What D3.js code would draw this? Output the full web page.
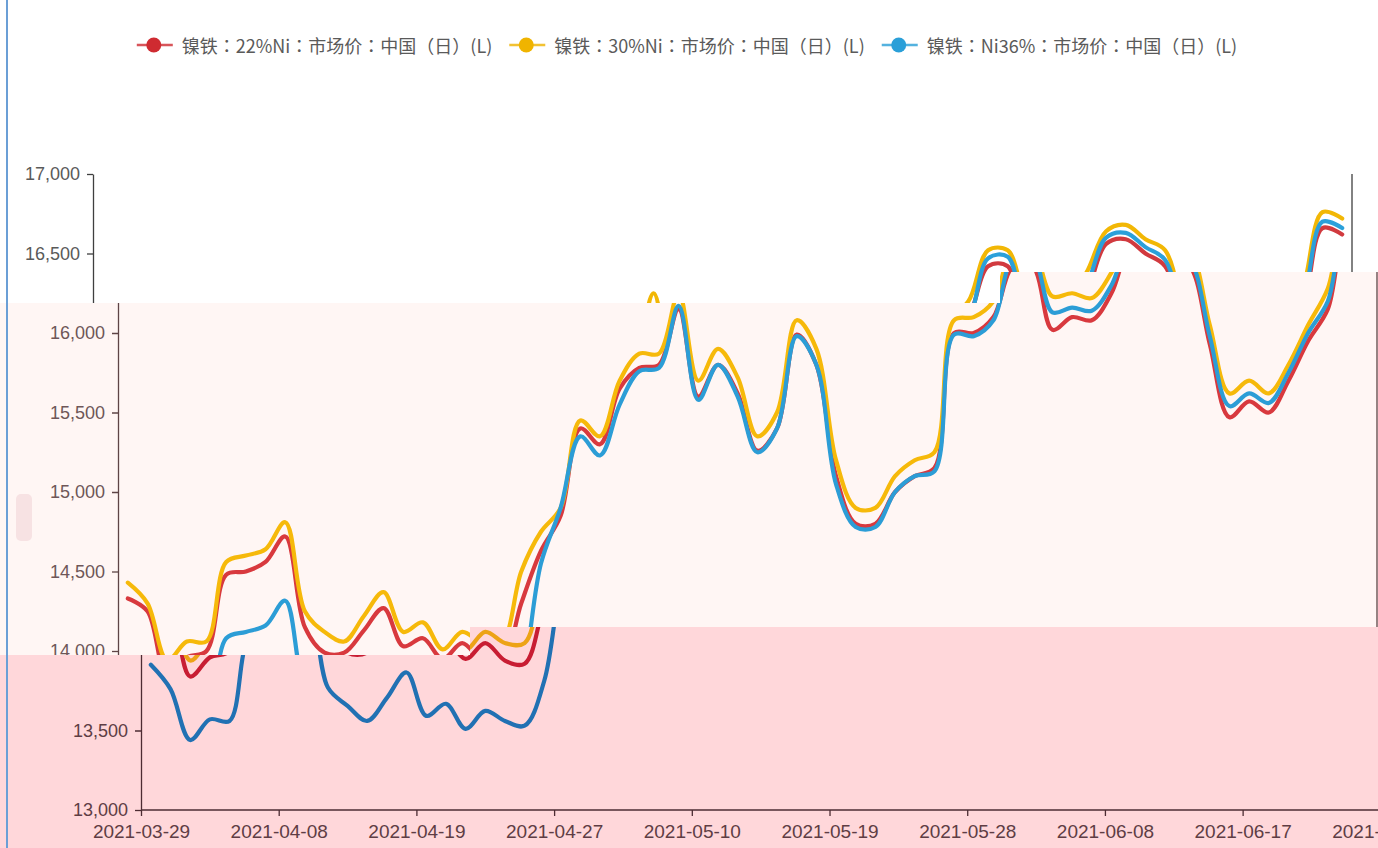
<!DOCTYPE html>
<html><head><meta charset="utf-8">
<script src="https://cdn.jsdelivr.net/npm/d3@7"></script>
<style>body{margin:0;background:#fff;overflow:hidden}svg{display:block}</style>
</head><body>
<svg id="chart" width="1378" height="848"></svg>
<script>
// ---------------- data ----------------
const dates = ["2021-03-29","2021-03-30","2021-03-31","2021-04-01","2021-04-02","2021-04-06","2021-04-07","2021-04-08","2021-04-09","2021-04-12","2021-04-13","2021-04-14","2021-04-15","2021-04-16","2021-04-19","2021-04-20","2021-04-21","2021-04-22","2021-04-23","2021-04-25","2021-04-26","2021-04-27","2021-04-28","2021-04-29","2021-04-30","2021-05-06","2021-05-07","2021-05-08","2021-05-10","2021-05-11","2021-05-12","2021-05-13","2021-05-14","2021-05-17","2021-05-18","2021-05-19","2021-05-20","2021-05-21","2021-05-24","2021-05-25","2021-05-26","2021-05-27","2021-05-28","2021-05-31","2021-06-01","2021-06-02","2021-06-03","2021-06-04","2021-06-07","2021-06-08","2021-06-09","2021-06-10","2021-06-11","2021-06-14","2021-06-15","2021-06-16","2021-06-17","2021-06-18","2021-06-21","2021-06-22","2021-06-23","2021-06-24","2021-06-25","2021-06-28"];
const xTickLabels = ["2021-03-29","2021-04-08","2021-04-19","2021-04-27","2021-05-10","2021-05-19","2021-05-28","2021-06-08","2021-06-17","2021-06-28"];
const yTickValues = [13000,13500,14000,14500,15000,15500,16000,16500,17000];
const seriesNames = ["镍铁：22%Ni：市场价：中国（日）(L)","镍铁：30%Ni：市场价：中国（日）(L)","镍铁：Ni36%：市场价：中国（日）(L)"];
const ni22 = [14330,14250,13840,13960,14000,14480,14500,14560,14720,14150,13990,13990,14130,14270,14030,14080,13950,14050,13940,13920,14300,14630,14850,15400,15300,15650,15780,15800,16150,15600,15800,15620,15260,15400,15990,15800,15100,14800,14800,15000,15100,15150,16000,16000,16100,16420,16420,16020,16100,16080,16250,16560,16590,16500,16420,15930,15470,15570,15500,15700,15950,16150,16660,16620];
const ni30 = [14430,14300,13940,14060,14060,14560,14600,14640,14810,14250,14120,14060,14220,14370,14120,14180,14010,14120,14050,14050,14500,14750,14900,15450,15350,15700,15870,15870,16250,15700,15900,15720,15350,15500,16080,15900,15200,14900,14900,15100,15200,15250,16080,16100,16200,16520,16520,16230,16250,16220,16380,16640,16680,16590,16520,16050,15620,15700,15620,15800,16050,16280,16760,16720];
const ni36 = [13913,13760,13440,13570,13560,14080,14120,14160,14316,13770,13655,13560,13705,13865,13592,13668,13510,13623,13560,13530,13813,14550,14900,15350,15230,15550,15760,15780,16170,15580,15800,15600,15250,15400,15980,15800,15050,14780,14780,15000,15100,15130,15990,15980,16080,16470,16480,16130,16160,16140,16300,16600,16630,16540,16460,15980,15540,15620,15560,15750,16000,16200,16700,16660];
const seriesData = [ni22, ni30, ni36];

// ---------------- setup ----------------
const W = 1378, H = 848;
const svg = d3.select("#chart");
const x = d3.scaleBand().domain(dates).range([141, 1400]).padding(0);
const xTick = d3.scalePoint().domain(dates).range([141, 1400 - x.bandwidth()]);
const xp = i => x(dates[i]) + x.bandwidth() / 2;
const y = d3.scaleLinear().domain([13000, 17000]).range([810, 174]);
const axisFont = "'Liberation Sans', Arial, sans-serif";

// picture bands (the reference is split in three horizontally offset strips)
const bands = [
  {id: "bandA", dx: -48, bg: "#ffffff",
   poly: [[0,0],[W,0],[W,272],[1000,272],[1000,303],[0,303]],
   yt: [16500,17000], xAxis: false,
   pal: {axis: "#3f3f3f", text: "#5a5a5a", c: ["#d13a3f","#f2b705","#2ba0da"]}},
  {id: "bandB", dx: -23, bg: "#fff6f4",
   poly: [[0,303],[1000,303],[1000,272],[W,272],[W,627],[470,627],[470,655],[0,655]],
   yt: [14000,14500,15000,15500,16000], xAxis: false,
   pal: {axis: "#5e4446", text: "#6e5658", c: ["#d8393e","#f6b90a","#2c9dd6"]}},
  {id: "bandC", dx: 0, bg: "#ffd7da",
   poly: [[0,655],[470,655],[470,627],[W,627],[W,H],[0,H]],
   yt: [13000,13500], xAxis: true,
   pal: {axis: "#4d2c33", text: "#5e3d44", c: ["#c81d33","#eda316","#2171b3"]}}
];

const defs = svg.append("defs");
bands.forEach(b => {
  defs.append("clipPath").attr("id", "clip-" + b.id)
    .append("polygon").attr("points", b.poly.map(p => p.join(",")).join(" "));
  svg.append("polygon").attr("points", b.poly.map(p => p.join(",")).join(" "))
    .attr("fill", b.bg);
});

const line = d3.line().x((d, i) => xp(i)).y(d => y(d)).curve(d3.curveCatmullRom.alpha(0.5));

bands.forEach(b => {
  const outer = svg.append("g").attr("clip-path", `url(#clip-${b.id})`);
  const g = outer.append("g").attr("transform", `translate(${b.dx},0)`);

  // left axis
  const ya = g.append("g").attr("transform", "translate(141,0)")
    .call(d3.axisLeft(y).tickValues(b.yt).tickFormat(d3.format(","))
      .tickSize(6).tickPadding(7).tickSizeOuter(0));
  ya.select(".domain").attr("stroke", b.pal.axis).attr("stroke-width", 1.3);
  ya.selectAll(".tick line").attr("stroke", b.pal.axis).attr("stroke-width", 1.3);
  ya.selectAll(".tick text").attr("fill", b.pal.text)
    .style("font-family", axisFont).style("font-size", "18px");

  // right border line
  g.append("line").attr("x1", 1400).attr("x2", 1400).attr("y1", y(17000)).attr("y2", y(13000))
    .attr("stroke", b.pal.axis).attr("stroke-width", 1.3);

  if (b.xAxis) {
    const xa = g.append("g").attr("transform", `translate(0,${y(13000)})`)
      .call(d3.axisBottom(xTick).tickValues(xTickLabels).tickSize(6).tickPadding(9).tickSizeOuter(0));
    xa.select(".domain").remove();
    xa.append("line").attr("x1", 141).attr("x2", 1400).attr("y1", 0).attr("y2", 0)
      .attr("stroke", b.pal.axis).attr("stroke-width", 1.3);
    xa.selectAll(".tick line").attr("stroke", b.pal.axis).attr("stroke-width", 1.3);
    xa.selectAll(".tick text").attr("fill", b.pal.text)
      .style("font-family", axisFont).style("font-size", "19px");
  }

  // series lines
  seriesData.forEach((s, k) => {
    g.append("path").datum(s).attr("d", line)
      .attr("fill", "none").attr("stroke", b.pal.c[k])
      .attr("stroke-width", 4.2).attr("stroke-linejoin", "round").attr("stroke-linecap", "round");
  });
});

// left frame line and small artefact
svg.append("rect").attr("x", 6).attr("y", 0).attr("width", 2).attr("height", H).attr("fill", "#6b9fd6");
svg.append("rect").attr("x", 16).attr("y", 494).attr("width", 16).attr("height", 47).attr("rx", 5)
  .attr("fill", "#f7e2e3");

// legend
const legendColors = ["#cf2b31", "#f0b400", "#2a9fd8"];
const lg = svg.append("g");
const items = [];
seriesNames.forEach((name, k) => {
  const it = lg.append("g");
  it.append("line").attr("x1", 0).attr("x2", 36).attr("y1", 45).attr("y2", 45)
    .attr("stroke", legendColors[k]).attr("stroke-width", 2.5).attr("opacity", 0.8);
  it.append("circle").attr("cx", 17).attr("cy", 45).attr("r", 7.5).attr("fill", legendColors[k]);
  const t = it.append("text").attr("x", 45).attr("y", 45).attr("dominant-baseline", "central")
    .attr("fill", "#5a5a5a").style("font-family", "'Noto Sans CJK TC', 'Noto Sans CJK SC', sans-serif")
    .style("font-size", "18px").text(name);
  const w = 45 + t.node().getComputedTextLength();
  items.push({it, w});
});
const gap = 17;
const total = d3.sum(items, d => d.w) + gap * (items.length - 1);
let start = 687 - total / 2;
items.forEach(d => { d.it.attr("transform", `translate(${start},0)`); start += d.w + gap; });
</script>
</body></html>
